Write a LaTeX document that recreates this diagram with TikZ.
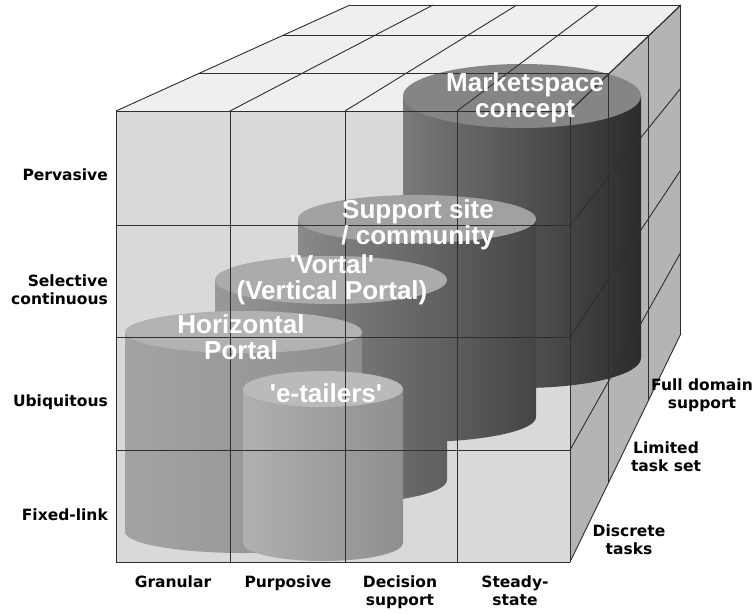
\documentclass[tikz,border=0pt]{standalone}
\usepackage{fontspec}
\setmainfont{Liberation Sans}
\newfontfamily\axisfont{DejaVu Sans}

% face and cylinder greys
\definecolor{frontface}{HTML}{D9D9D9}
\definecolor{topface}{HTML}{EFEFEF}
\definecolor{sideface}{HTML}{B4B4B4}
\definecolor{gridline}{HTML}{2E2E2E}

% cylinder: cx, y of top, y of bottom, x radius, top y radius, bottom y radius,
% body colour left, body colour right, lid colour
\newcommand\drawcyl[9]{%
  \shade[left color=#7, right color=#8]
    ({#1-#4},#2) -- ({#1-#4},#3)
    arc[start angle=180, end angle=360, x radius=#4pt, y radius=#6pt]
    -- ({#1+#4},#2) -- cycle;
  \fill[#9] (#1,#2) ellipse[x radius=#4pt, y radius=#5pt];
}

\begin{document}
\begin{tikzpicture}[x=1pt, y=-1pt,
  grid/.style={draw=gridline, line width=0.9pt},
  axislabel/.style={font=\axisfont\bfseries\fontsize{15.5}{18}\selectfont,
    text=black, inner sep=0pt, align=center},
  cyllabel/.style={font=\bfseries\fontsize{26}{26}\selectfont,
    text=white, inner sep=0pt, align=center}]

\useasboundingbox (0,0) rectangle (754,613);
\fill[white] (0,0) rectangle (754,613);

% vanishing point of the receding edges: (979,-280); depth scale 1 / 0.905 / 0.807 / 0.729
\coordinate (ftl) at (116,111);
\coordinate (ftr) at (570,111);
\coordinate (fbr) at (570,562);
\coordinate (fbl) at (116,562);
\coordinate (btl) at ({979+(116-979)*0.729},{-280+391*0.729});
\coordinate (btr) at ({979+(570-979)*0.729},{-280+391*0.729});
\coordinate (bbr) at ({979+(570-979)*0.729},{-280+842*0.729});

% faces of the cube
\fill[frontface] (ftl) rectangle (fbr);
\fill[topface] (ftl) -- (ftr) -- (btr) -- (btl) -- cycle;
\fill[sideface] (ftr) -- (fbr) -- (bbr) -- (btr) -- cycle;

% cylinders, back to front
\drawcyl{522}{96}{358}{119}{32}{30}{black!52}{black!83}{black!48}
\drawcyl{417}{219}{417}{119}{24}{25}{black!46}{black!73}{black!37}
\drawcyl{331}{280}{480}{116}{24}{24}{black!40}{black!63}{black!33}
\drawcyl{243.5}{332}{532}{118.5}{21}{21}{black!36}{black!44}{black!30}
\drawcyl{323}{389}{543}{80}{18}{18}{black!31}{black!44}{black!27}

% front face grid
\foreach \x in {116,230,345,457,570}
  \draw[grid] (\x,111) -- (\x,562);
\foreach \y in {111,225,337,450,562}
  \draw[grid] (116,\y) -- (570,\y);

% top face grid
\foreach \s in {0.905,0.807,0.729}
  \draw[grid] ({979+(116-979)*\s},{-280+391*\s}) -- ({979+(570-979)*\s},{-280+391*\s});
\foreach \x in {116,230,345,457,570}
  \draw[grid] (\x,111) -- ({979+(\x-979)*0.729},{-280+391*0.729});

% right face grid
\foreach \s in {0.905,0.807,0.729}
  \draw[grid] ({979-409*\s},{-280+391*\s}) -- ({979-409*\s},{-280+842*\s});
\foreach \y in {111,225,337,450,562}
  \draw[grid] (570,\y) -- ({979-409*0.729},{-280+(\y+280)*0.729});

% cylinder captions
\node[cyllabel] (market) at (525,98) {Marketspace\\concept};
\node[cyllabel] (support) at (418,225) {Support site\\/ community};
\node[cyllabel] (vortal) at (332,280) {\textquotesingle Vortal\textquotesingle\\(Vertical Portal)};
\node[cyllabel] (hportal) at (241,337) {Horizontal\\Portal};
\node[cyllabel] (etail) at (326,393) {\textquotesingle e-tailers\textquotesingle};

% vertical axis
\node[axislabel, anchor=east, align=right] (pervasive) at (108,175) {Pervasive};
\node[axislabel, anchor=east, align=right] (selective) at (108,290) {Selective\\continuous};
\node[axislabel, anchor=east, align=right] (ubiq) at (108,402) {Ubiquitous};
\node[axislabel, anchor=east, align=right] (fixed) at (108,515) {Fixed-link};

% horizontal axis
\node[axislabel, anchor=north] (granular) at (173,576) {Granular};
\node[axislabel, anchor=north] (purposive) at (288,576) {Purposive};
\node[axislabel, anchor=north] (decision) at (400,576) {Decision\\support};
\node[axislabel, anchor=north] (steady) at (515,576) {Steady-\\state};

% depth axis
\node[axislabel] (fulldom) at (702,395) {Full domain\\support};
\node[axislabel] (limited) at (666,457) {Limited\\task set};
\node[axislabel] (discrete) at (629,540) {Discrete\\tasks};
\end{tikzpicture}
\end{document}
